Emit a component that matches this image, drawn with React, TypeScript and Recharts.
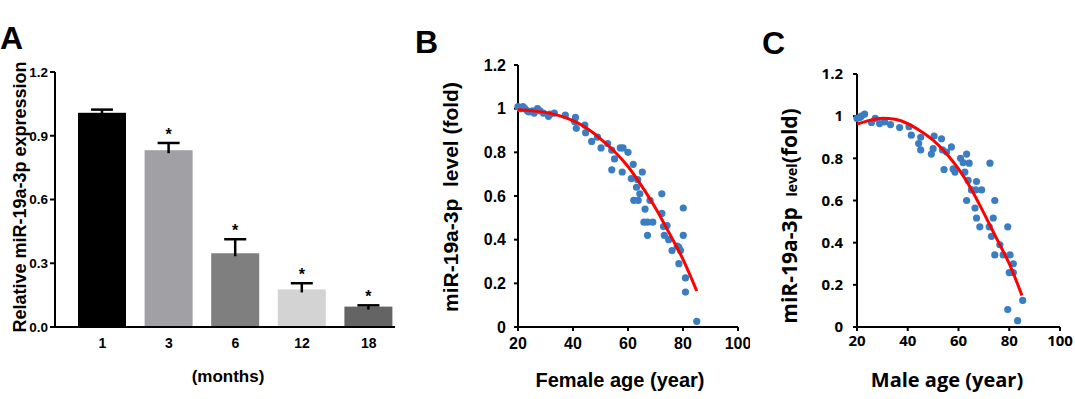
import React from 'react';
import {
  BarChart,
  Bar,
  Cell,
  ComposedChart,
  Scatter,
  Line,
  XAxis,
  YAxis,
} from 'recharts';

// panel A
const months = ['1', '3', '6', '12', '18'];
const expression = [1.008, 0.832, 0.347, 0.177, 0.096];
const expressionErr = [0.015, 0.034, 0.066, 0.029, 0.006];
const significant = [false, true, true, true, true];
const barColors = ['#000000', '#a1a1a5', '#7f7f7f', '#d3d3d3', '#646464'];
const exprTicks = [0, 0.3, 0.6, 0.9, 1.2];

// panel B
const femaleAges = [
  20, 20.8, 21.8, 22.5, 23.4, 24, 25.3, 25.9, 27.1, 28, 29.2, 31.1, 31.7, 33.2,
  37.2, 40.6, 40.9, 41.2, 44.3, 44.6, 46.8, 48.9, 50.2, 52.6, 54.1, 54.1, 55.1,
  57.2, 58.2, 57.9, 60, 61.9, 61.2, 62.1, 63.5, 63.1, 63.7, 65.2, 64.3, 66.2,
  68, 65.8, 67.1, 67.1, 69, 72.3, 72.3, 72.9, 74.2, 73.2, 74.8, 76, 77.9, 78.5,
  79.1, 78.5, 80.1, 80.1, 80.9, 80.9, 85,
];
const femaleLevels = [
  1.01, 1.0, 1.01, 1.0, 0.99, 0.985, 0.99, 0.98, 1.0, 0.99, 0.98, 0.965, 0.975,
  0.98, 0.97, 0.94, 0.96, 0.91, 0.925, 0.89, 0.85, 0.87, 0.82, 0.84, 0.81, 0.72,
  0.77, 0.82, 0.82, 0.71, 0.8, 0.745, 0.68, 0.58, 0.675, 0.64, 0.58, 0.71, 0.61,
  0.54, 0.58, 0.48, 0.48, 0.42, 0.48, 0.61, 0.52, 0.46, 0.465, 0.42, 0.4, 0.35,
  0.37, 0.365, 0.35, 0.29, 0.545, 0.42, 0.225, 0.16, 0.026,
];
const femaleFitAges = [20, 25, 30, 35, 40, 45, 50, 55, 60, 65, 70, 75, 80, 85];
const femaleFitLevels = [
  0.995, 0.99, 0.983, 0.968, 0.945, 0.91, 0.862, 0.805, 0.735, 0.645, 0.545,
  0.43, 0.31, 0.165,
];

// panel C
const maleAges = [
  20, 21, 21.7, 23, 25.7, 27.2, 28.9, 30.9, 33.2, 36.8, 40.5, 41.4, 44.3, 45.1,
  45.1, 49.3, 50.4, 50, 53.3, 53.7, 54.3, 55.3, 57.2, 57.9, 58.6, 60.8, 61.8,
  63.2, 64.2, 62.5, 63.2, 63.8, 65.1, 67.1, 66.8, 69.1, 66.5, 67.1, 68.4, 72.4,
  72.1, 73, 74.3, 73.7, 74.3, 76.3, 77.6, 79.4, 80.3, 80, 81.6, 81.6, 79.4,
  83.3, 85.3,
];
const maleLevels = [
  0.989, 0.994, 1.0, 1.01, 0.97, 0.99, 0.965, 0.973, 0.96, 0.946, 0.95, 0.91,
  0.87, 0.9, 0.84, 0.82, 0.906, 0.846, 0.893, 0.84, 0.747, 0.83, 0.854, 0.75,
  0.735, 0.8, 0.78, 0.82, 0.777, 0.735, 0.6, 0.695, 0.65, 0.69, 0.65, 0.65,
  0.564, 0.517, 0.475, 0.777, 0.475, 0.43, 0.6, 0.517, 0.342, 0.39, 0.342,
  0.475, 0.342, 0.258, 0.3, 0.258, 0.083, 0.03, 0.126,
];
const maleFitAges = [20, 25, 30, 35, 40, 45, 50, 55, 60, 65, 70, 75, 80, 85];
const maleFitLevels = [
  0.962, 0.98, 0.99, 0.985, 0.965, 0.93, 0.886, 0.825, 0.75, 0.655, 0.54, 0.42,
  0.3, 0.15,
];

const levelTicks = [0, 0.2, 0.4, 0.6, 0.8, 1, 1.2];
const ageTicks = [20, 40, 60, 80, 100];

const barData = months.map((m, i) => ({
  month: m,
  value: expression[i],
  err: expressionErr[i],
  sig: significant[i],
}));
const femalePts = femaleAges.map((a, i) => ({ age: a, level: femaleLevels[i] }));
const femaleFit = femaleFitAges.map((a, i) => ({ age: a, level: femaleFitLevels[i] }));
const malePts = maleAges.map((a, i) => ({ age: a, level: maleLevels[i] }));
const maleFit = maleFitAges.map((a, i) => ({ age: a, level: maleFitLevels[i] }));

const ARIAL = "Arial, 'Liberation Sans', sans-serif";
const CALIBRI = "'Open Sans', Lato, sans-serif";

const BarWithError = (props: any) => {
  const { x, y, width, height, fill, payload } = props;
  const perUnit = height / payload.value;
  const top = y - payload.err * perUnit;
  const cx = x + width / 2;
  return (
    <g>
      <rect x={x} y={y} width={width} height={height} fill={fill} />
      <line x1={cx} x2={cx} y1={y + 3} y2={top} stroke="#000" strokeWidth={2.5} />
      <line x1={cx - 11} x2={cx + 11} y1={top} y2={top} stroke="#000" strokeWidth={2.5} />
      {payload.sig && (
        <text x={cx} y={top - 3} textAnchor="middle" fontSize={16} fontWeight="bold" fontFamily={ARIAL}>
          *
        </text>
      )}
    </g>
  );
};

const Dot = (props: any) => (
  <circle cx={props.cx} cy={props.cy} r={3.6} fill="#3a7dc2" />
);

const Title = ({ tx, ty, rot, size, family, children }: any) => (
  <text
    x={tx}
    y={ty}
    transform={rot ? `rotate(-90, ${tx}, ${ty})` : undefined}
    textAnchor="middle"
    fontSize={size}
    fontWeight="bold"
    fontFamily={family}
    fill="#000"
    style={{ whiteSpace: 'pre' }}
  >
    {children}
  </text>
);

const Letter = ({ left, top, text }: any) => (
  <div
    style={{
      position: 'absolute',
      left,
      top,
      fontSize: 32,
      lineHeight: 1,
      fontWeight: 'bold',
      fontFamily: ARIAL,
    }}
  >
    {text}
  </div>
);

export default function App() {
  const axisLine = { stroke: '#000', strokeWidth: 2 };
  return (
    <div
      style={{
        position: 'absolute',
        left: 0,
        top: 0,
        width: 1075,
        height: 399,
        background: '#fff',
        overflow: 'hidden',
      }}
    >
      <Letter left={0} top={22} text="A" />
      <Letter left={415} top={26} text="B" />
      <Letter left={762} top={27} text="C" />

      <div style={{ position: 'absolute', left: 0, top: 0 }}>
        <BarChart width={400} height={399} data={barData} margin={{ top: 72, right: 5, bottom: 0, left: 0 }}>
          <XAxis
            dataKey="month"
            height={72}
            padding={{ left: 14, right: -7 }}
            axisLine={axisLine}
            tickLine={false}
            tickSize={0}
            tickMargin={11}
            tick={{ fill: '#000', fontSize: 14, fontWeight: 'bold', fontFamily: ARIAL }}
            label={<Title tx={228} ty={382} size={17} family={ARIAL}>(months)</Title>}
          />
          <YAxis
            width={55}
            domain={[0, 1.2]}
            ticks={exprTicks}
            interval={0}
            tickFormatter={(v: number) => v.toFixed(1)}
            axisLine={axisLine}
            tickLine={{ stroke: '#000', strokeWidth: 2 }}
            tickSize={5}
            tickMargin={2}
            tick={{ fill: '#000', fontSize: 13.5, fontWeight: 'bold', fontFamily: ARIAL }}
            label={
              <Title tx={26} ty={197} rot size={18} family={ARIAL}>
                Relative miR-19a-3p expression
              </Title>
            }
          />
          <Bar dataKey="value" barSize={48} shape={BarWithError} isAnimationActive={false}>
            {barData.map((d, i) => (
              <Cell key={d.month} fill={barColors[i]} />
            ))}
          </Bar>
        </BarChart>
      </div>

      <div style={{ position: 'absolute', left: 420, top: 0 }}>
        <ComposedChart width={330} height={399} margin={{ top: 65, right: 12, bottom: 0, left: 0 }}>
          <XAxis
            type="number"
            dataKey="age"
            domain={[20, 100]}
            ticks={ageTicks}
            interval={0}
            height={72}
            axisLine={axisLine}
            tickLine={{ stroke: '#000', strokeWidth: 2 }}
            tickSize={4}
            tickMargin={7}
            tick={{ fill: '#000', fontSize: 16, fontWeight: 'bold', fontFamily: ARIAL }}
            label={<Title tx={200} ty={387} size={20} family={ARIAL}>Female age (year)</Title>}
          />
          <YAxis
            type="number"
            dataKey="level"
            width={98}
            domain={[0, 1.2]}
            ticks={levelTicks}
            interval={0}
            axisLine={axisLine}
            tickLine={{ stroke: '#000', strokeWidth: 2 }}
            tickSize={4}
            tickMargin={8}
            tick={{ fill: '#000', fontSize: 16, fontWeight: 'bold', fontFamily: ARIAL }}
            label={
              <Title tx={38} ty={197} rot size={21} family={ARIAL}>
                {'miR-19a-3p  level (fold)'}
              </Title>
            }
          />
          <Scatter data={femalePts} dataKey="level" shape={Dot} isAnimationActive={false} />
          <Line
            data={femaleFit}
            dataKey="level"
            type="monotone"
            stroke="#ff0000"
            strokeWidth={3}
            dot={false}
            activeDot={false}
            zIndex={700}
            isAnimationActive={false}
          />
        </ComposedChart>
      </div>

      <div style={{ position: 'absolute', left: 760, top: 0 }}>
        <ComposedChart width={315} height={399} margin={{ top: 74, right: 15, bottom: 0, left: 0 }}>
          <XAxis
            type="number"
            dataKey="age"
            domain={[20, 100]}
            ticks={ageTicks}
            interval={0}
            height={72}
            axisLine={axisLine}
            tickLine={{ stroke: '#000', strokeWidth: 2 }}
            tickSize={4}
            tickMargin={4}
            tick={{ fill: '#000', fontSize: 15, fontWeight: 'bold', fontFamily: CALIBRI }}
            label={<Title tx={187} ty={387} size={20} family={CALIBRI}>Male age (year)</Title>}
          />
          <YAxis
            type="number"
            dataKey="level"
            width={97}
            domain={[0, 1.2]}
            ticks={levelTicks}
            interval={0}
            axisLine={axisLine}
            tickLine={{ stroke: '#000', strokeWidth: 2 }}
            tickSize={4}
            tickMargin={10}
            tick={{ fill: '#000', fontSize: 15, fontWeight: 'bold', fontFamily: CALIBRI }}
            label={
              <Title tx={37} ty={216} rot size={21} family={CALIBRI}>
                <tspan>{'miR-19a-3p  '}</tspan>
                <tspan fontSize={14}>level</tspan>
                <tspan>{'(fold)'}</tspan>
              </Title>
            }
          />
          <Scatter data={malePts} dataKey="level" shape={Dot} isAnimationActive={false} />
          <Line
            data={maleFit}
            dataKey="level"
            type="monotone"
            stroke="#ff0000"
            strokeWidth={3}
            dot={false}
            activeDot={false}
            zIndex={700}
            isAnimationActive={false}
          />
        </ComposedChart>
      </div>
    </div>
  );
}
